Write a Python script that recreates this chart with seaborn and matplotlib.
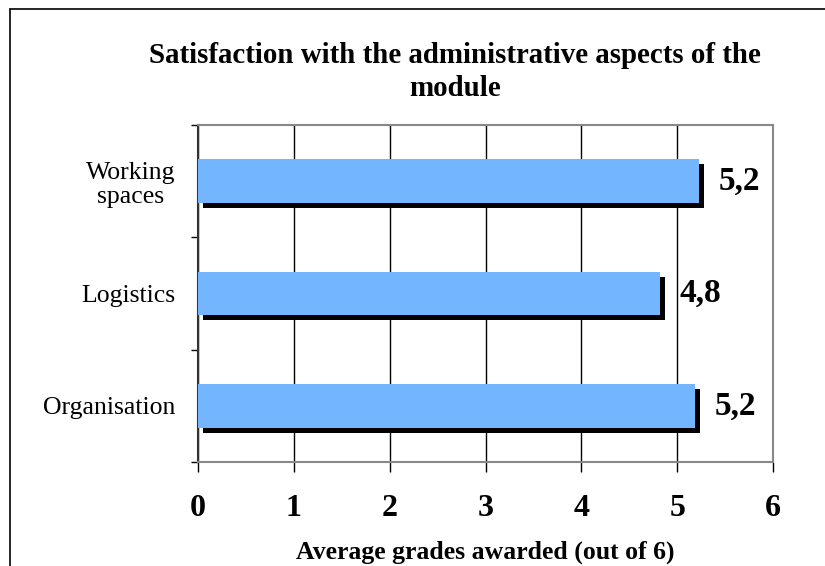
import matplotlib
matplotlib.use("Agg")
import matplotlib.pyplot as plt
import matplotlib.patheffects as pe
from matplotlib.lines import Line2D
import seaborn as sns
import pandas as pd
import numpy as np

categories = ["Working\nspaces", "Logistics", "Organisation"]
grades = [5.23, 4.82, 5.19]
xticks = [0, 1, 2, 3, 4, 5, 6]

df = pd.DataFrame({"aspect": categories, "grade": grades})

sns.set_theme(style="white")
plt.rcParams['font.family'] = ['Liberation Serif', 'DejaVu Serif']
plt.rcParams['text.color'] = 'black'
plt.rcParams['xtick.color'] = 'black'
plt.rcParams['ytick.color'] = 'black'
plt.rcParams['axes.labelcolor'] = 'black'

fig = plt.figure(figsize=(8.25, 5.66), dpi=100)
ax = fig.add_axes([0.24, 0.1837, 0.697, 0.5954])

sns.barplot(data=df, x="grade", y="aspect", orient="h", color="#73B6FF",
            saturation=1, width=0.39, linewidth=0, ax=ax, zorder=3)
# drop shadow under each bar
for bar in ax.patches:
    bar.set_path_effects([pe.SimplePatchShadow(offset=(3.6, -3.6), shadow_rgbFace="black", alpha=1.0),
                          pe.Normal()])

labels = [f"{v:.1f}".replace(".", ",") for v in grades]
ax.bar_label(ax.containers[0], labels=labels, padding=14, fontsize=24, fontweight="bold")

ax.set_xlim(0, 6)
ax.set_ylim(2.5, -0.5)
ax.set_xticks(xticks)
ax.set_xticklabels([str(t) for t in xticks], fontsize=23, fontweight="bold")
ax.xaxis.grid(True, color="black", linewidth=1)
ax.set_axisbelow(True)
ax.tick_params(axis="x", which="major", direction="out", length=7, width=1, color="black", pad=16, bottom=True)
ax.tick_params(axis="y", which="major", length=0, labelsize=18.5, pad=16)
ax.set_yticks(np.arange(-0.5, 3, 1), minor=True)
ax.tick_params(axis="y", which="minor", direction="out", length=5, width=1, color="black", left=True)
for lbl in ax.get_yticklabels():
    lbl.set_horizontalalignment("right")
    lbl.set_multialignment("center")
    lbl.set_linespacing(1.15)

for side in ["top", "right", "bottom"]:
    ax.spines[side].set_color("#888888")
    ax.spines[side].set_linewidth(1.5)
ax.spines["left"].set_color("#333333")
ax.spines["left"].set_linewidth(1.5)

ax.set_xlabel("Average grades awarded (out of 6)", fontsize=18.5, fontweight="bold", labelpad=13)
ax.set_ylabel("")

fig.text(0.552, 0.873, "Satisfaction with the administrative aspects of the\nmodule",
         ha="center", va="center", fontsize=20.8, fontweight="bold", linespacing=1.32)

fig.add_artist(Line2D([10 / 825, 1], [1 - 9 / 566, 1 - 9 / 566], color="black", linewidth=1.2))
fig.add_artist(Line2D([10 / 825, 10 / 825], [0, 1 - 9 / 566], color="black", linewidth=1.2))

fig.savefig("out.png", dpi=100)
